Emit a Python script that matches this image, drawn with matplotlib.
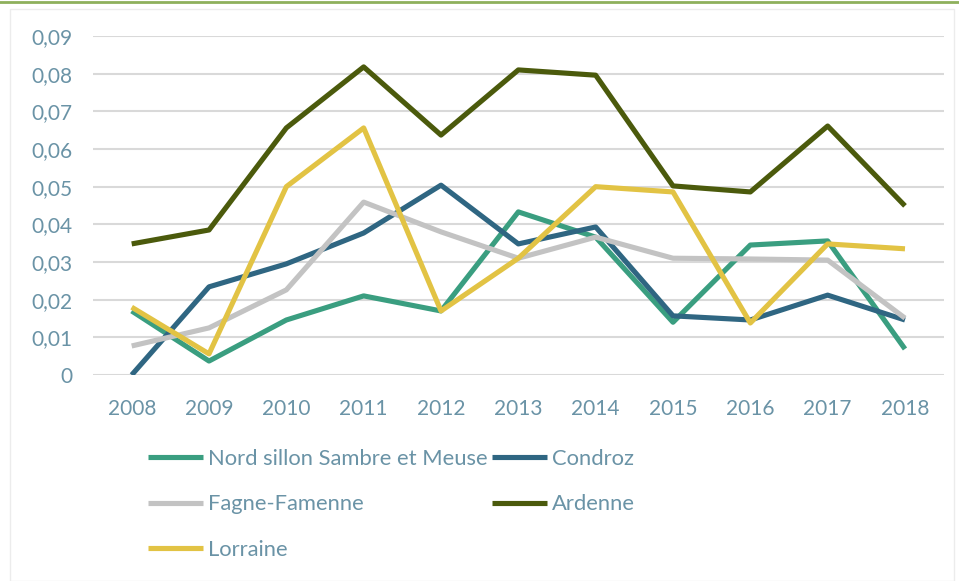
import matplotlib.pyplot as plt
from matplotlib.lines import Line2D
from matplotlib.patches import Rectangle

plt.rcParams['font.family'] = ['Lato', 'DejaVu Sans']

# Data
years = [2008, 2009, 2010, 2011, 2012, 2013, 2014, 2015, 2016, 2017, 2018]
nord = [0.017, 0.0037, 0.0146, 0.021, 0.017, 0.0433, 0.0366, 0.014, 0.0345, 0.0356, 0.0069]
condroz = [0.0, 0.0234, 0.0295, 0.0377, 0.0504, 0.0348, 0.0393, 0.0157, 0.0146, 0.0212, 0.0146]
fagne = [0.0077, 0.0125, 0.0226, 0.0459, 0.038, 0.031, 0.0366, 0.031, 0.0308, 0.0305, 0.0151]
ardenne = [0.0348, 0.0385, 0.0656, 0.0818, 0.0637, 0.081, 0.0796, 0.0502, 0.0486, 0.0661, 0.0449]
lorraine = [0.018, 0.0056, 0.050, 0.0656, 0.017, 0.031, 0.050, 0.0486, 0.0138, 0.0348, 0.0335]
y_ticks = [0, 0.01, 0.02, 0.03, 0.04, 0.05, 0.06, 0.07, 0.08, 0.09]
y_labels = ['0', '0,01', '0,02', '0,03', '0,04', '0,05', '0,06', '0,07', '0,08', '0,09']

series = [
    ('Nord sillon Sambre et Meuse', nord, '#3a9e80'),
    ('Condroz', condroz, '#2f6682'),
    ('Fagne-Famenne', fagne, '#c3c3c3'),
    ('Ardenne', ardenne, '#4b5a0c'),
    ('Lorraine', lorraine, '#e2c344'),
]

text_color = '#6a93a6'
fs = 15

fig = plt.figure(figsize=(9.59, 5.81), dpi=100)
ax = fig.add_axes([0.097, 0.3546, 0.887, 0.5834])

# Frame decoration
fig.add_artist(Line2D([0, 1], [0.997, 0.997], color='#8eb05c', lw=2, transform=fig.transFigure))
fig.add_artist(Rectangle((0.01, 0.0), 0.985, 0.985, fill=False, edgecolor='#ececec',
                         lw=1, transform=fig.transFigure))

handles = {}
for name, vals, color in series:
    h, = ax.plot(years, vals, color=color, lw=3.7, solid_joinstyle='round',
                 solid_capstyle='butt', label=name)
    handles[name] = h

ax.set_xlim(2007.5, 2018.5)
ax.set_ylim(0, 0.09)
ax.set_xticks(years)
ax.set_xticklabels([str(y) for y in years])
ax.set_yticks(y_ticks)
ax.set_yticklabels(y_labels)
ax.tick_params(axis='both', length=0, labelsize=fs, labelcolor=text_color)
ax.tick_params(axis='y', pad=15)
ax.tick_params(axis='x', pad=17)
ax.grid(axis='y', color='#d9d9d9', lw=1.5)
ax.set_axisbelow(True)
for s in ax.spines.values():
    s.set_visible(False)

order = ['Nord sillon Sambre et Meuse', 'Fagne-Famenne', 'Lorraine', 'Condroz', 'Ardenne']
leg = fig.legend([handles[n] for n in order], order, ncol=2,
                 loc='upper left', bbox_to_anchor=(0.145, 0.242),
                 frameon=False, fontsize=15.8, handlelength=2.5,
                 handletextpad=0.22, columnspacing=0.22, labelspacing=1.15,
                 borderaxespad=0)
for t in leg.get_texts():
    t.set_color(text_color)

plt.savefig('out.png', dpi=100)
plt.close()
